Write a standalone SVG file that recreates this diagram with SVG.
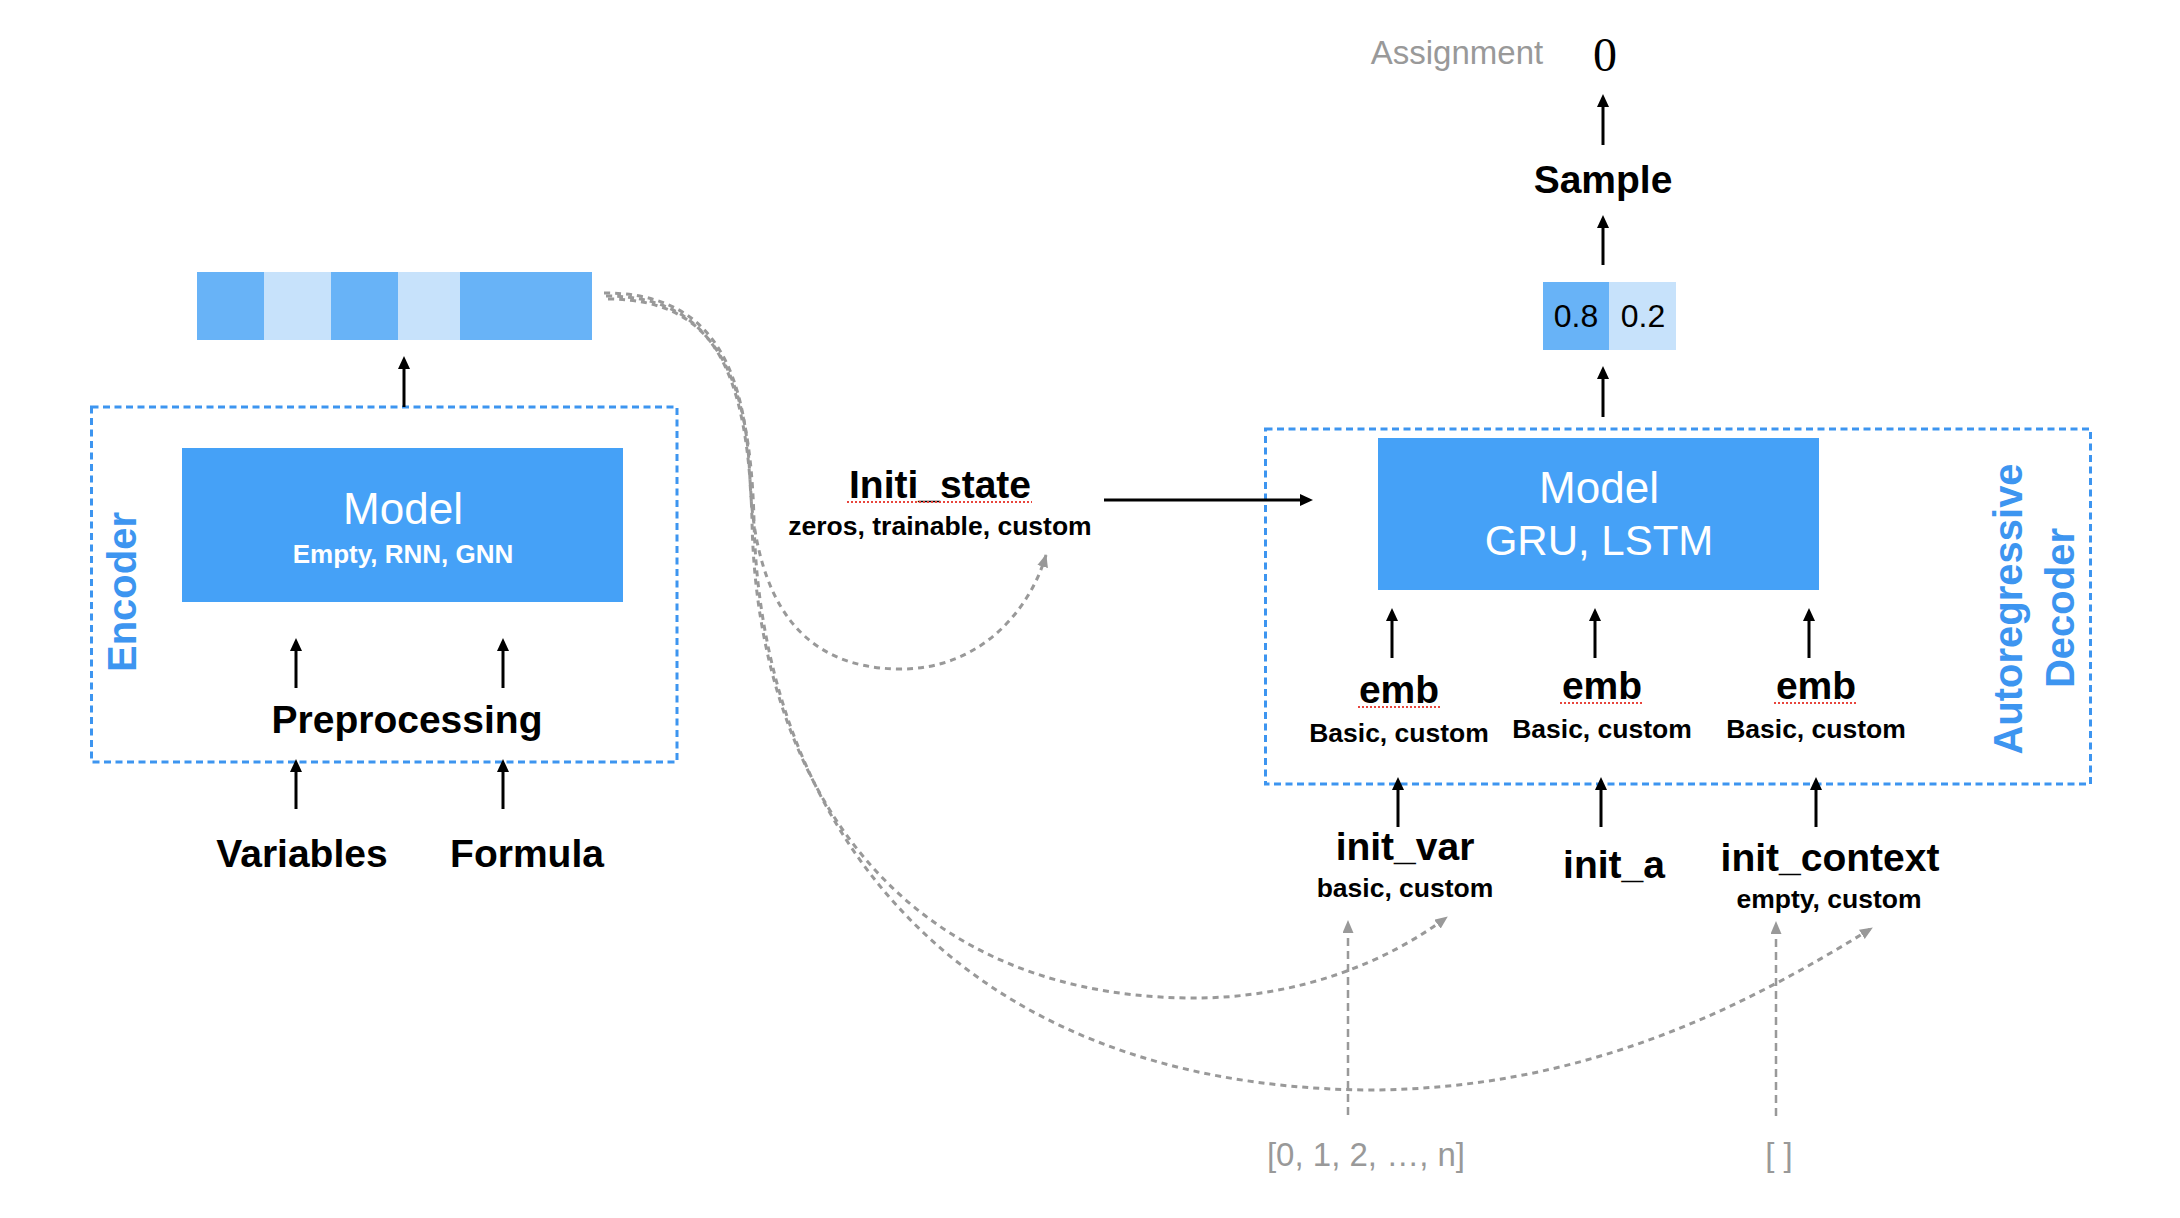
<svg xmlns="http://www.w3.org/2000/svg" width="2180" height="1218" viewBox="0 0 2180 1218">
<defs>
<style>
text { font-family: "Liberation Sans", Arial, Helvetica, sans-serif; }
.lbl { font-size: 39px; font-weight: bold; fill: #000; text-anchor: middle; }
.sub { font-size: 26.5px; font-weight: bold; fill: #000; text-anchor: middle; }
.mtxt { font-size: 44px; fill: #fff; text-anchor: middle; }
.msub { font-size: 26px; font-weight: bold; fill: #fff; text-anchor: middle; }
.grp { font-size: 40px; font-weight: bold; fill: #3d95f0; text-anchor: middle; }
.gray { font-size: 33px; fill: #999; text-anchor: middle; }
.num { font-size: 32px; fill: #000; text-anchor: middle; }
.model { fill: #45a1f7; }
.dashbox { fill: none; stroke: #3d95f0; stroke-width: 3; stroke-dasharray: 7 4.5; }
.arrow { stroke: #000; stroke-width: 3; fill: none; marker-end: url(#ah); }
.curve { stroke: #999; stroke-width: 3; fill: none; stroke-dasharray: 6 5; marker-end: url(#gh); }
.gline { stroke: #999; stroke-width: 2.5; fill: none; stroke-dasharray: 8 5; marker-end: url(#gh); }
.dark { fill: #68b3f7; }
.light { fill: #c7e2fb; }
.spell { stroke: #e8453c; stroke-width: 2; stroke-dasharray: 2 2; fill: none; }
</style>
<marker id="ah" markerUnits="userSpaceOnUse" markerWidth="14" markerHeight="12" refX="6" refY="6" orient="auto"><path d="M0,0 L13,6 L0,12 z" fill="#000" stroke="none"/></marker>
<marker id="gh" markerUnits="userSpaceOnUse" markerWidth="14" markerHeight="12" refX="12" refY="5.5" orient="auto"><path d="M0,0 L13,5.5 L0,11 z" fill="#999" stroke="none"/></marker>
</defs>
<rect width="2180" height="1218" fill="#fff"/>

<g id="encoder">
<rect class="dashbox" x="91.5" y="407" width="585.5" height="355"/>
<text class="grp" transform="translate(136,592) rotate(-90)">Encoder</text>
</g>
<g id="encoder-model">
<rect class="model" x="182" y="448" width="441" height="154"/>
<text class="mtxt" x="403" y="524">Model</text>
<text class="msub" x="403" y="563">Empty, RNN, GNN</text>
</g>
<g id="preprocessing"><text class="lbl" x="407" y="733">Preprocessing</text></g>
<g id="variables"><text class="lbl" x="302" y="867">Variables</text></g>
<g id="formula"><text class="lbl" x="527" y="867">Formula</text></g>
<g id="feature-vector">
<rect class="dark" x="197" y="272" width="67" height="68"/>
<rect class="light" x="264" y="272" width="67" height="68"/>
<rect class="dark" x="331" y="272" width="67" height="68"/>
<rect class="light" x="398" y="272" width="62" height="68"/>
<rect class="dark" x="460" y="272" width="132" height="68"/>
</g>
<g id="initi-state">
<text class="lbl" x="940" y="498">Initi_state</text>
<line class="spell" x1="847" y1="502" x2="1032" y2="502"/>
<text class="sub" x="940" y="535">zeros, trainable, custom</text>
</g>
<g id="decoder">
<rect class="dashbox" x="1265.5" y="429" width="825" height="355"/>
<text class="grp" transform="translate(2022,609) rotate(-90)">Autoregressive</text>
<text class="grp" transform="translate(2074,608) rotate(-90)">Decoder</text>
</g>
<g id="decoder-model">
<rect class="model" x="1378" y="438" width="441" height="152"/>
<text class="mtxt" x="1599" y="503">Model</text>
<text class="mtxt" x="1599" y="555" style="font-size:42px">GRU, LSTM</text>
</g>
<g id="emb1">
<text class="lbl" x="1399" y="703">emb</text>
<line class="spell" x1="1358" y1="707" x2="1440" y2="707"/>
<text class="sub" x="1399" y="742">Basic, custom</text>
</g>
<g id="emb2">
<text class="lbl" x="1602" y="699">emb</text>
<line class="spell" x1="1560" y1="703" x2="1643" y2="703"/>
<text class="sub" x="1602" y="738">Basic, custom</text>
</g>
<g id="emb3">
<text class="lbl" x="1816" y="699">emb</text>
<line class="spell" x1="1774" y1="703" x2="1857" y2="703"/>
<text class="sub" x="1816" y="738">Basic, custom</text>
</g>
<g id="init-var">
<text class="lbl" x="1405" y="860">init_var</text>
<text class="sub" x="1405" y="897">basic, custom</text>
</g>
<g id="init-a"><text class="lbl" x="1614" y="878">init_a</text></g>
<g id="init-context">
<text class="lbl" x="1830" y="871">init_context</text>
<text class="sub" x="1829" y="908">empty, custom</text>
</g>
<g id="probabilities">
<rect class="dark" x="1543" y="282" width="66" height="68"/>
<rect class="light" x="1609" y="282" width="67" height="68"/>
<text class="num" x="1576" y="327">0.8</text>
<text class="num" x="1643" y="327">0.2</text>
</g>
<g id="sample"><text class="lbl" x="1603" y="193">Sample</text></g>
<g id="assignment">
<text class="gray" x="1457" y="64">Assignment</text>
<text x="1605" y="71" style="font-family:'Liberation Serif','Times New Roman',serif;font-size:48px;fill:#000" text-anchor="middle">0</text>
</g>
<g id="var-indices"><text class="gray" x="1366" y="1166">[0, 1, 2, …, n]</text></g>
<g id="empty-list"><text class="gray" x="1779" y="1166">[ ]</text></g>

<g id="connectors">
<path class="arrow" d="M404,407 L404,363"/>
<path class="arrow" d="M296,688 L296,645"/>
<path class="arrow" d="M503,688 L503,645"/>
<path class="arrow" d="M296,809 L296,766"/>
<path class="arrow" d="M503,809 L503,766"/>
<path class="arrow" d="M1104,500 L1306,500"/>
<path class="arrow" d="M1392,658 L1392,615"/>
<path class="arrow" d="M1595,658 L1595,615"/>
<path class="arrow" d="M1809,658 L1809,615"/>
<path class="arrow" d="M1398,827 L1398,784"/>
<path class="arrow" d="M1601,827 L1601,784"/>
<path class="arrow" d="M1816,827 L1816,784"/>
<path class="arrow" d="M1603,417 L1603,373"/>
<path class="arrow" d="M1603,265 L1603,222"/>
<path class="arrow" d="M1603,145 L1603,101"/>
<path class="gline" d="M1348,1115 L1348,921"/>
<path class="gline" d="M1776,1116 L1776,922"/>
<path class="curve" d="M604,293 C700,293 745,350 750,480 C755,600 800,668 899,669 C980,670 1030,610 1046,555"/>
<path class="curve" d="M606,296 C712,296 748,370 752,520 C756,760 880,995 1190,998 C1300,999 1390,960 1447,917"/>
<path class="curve" d="M608,299 C714,299 750,372 754,520 C760,820 950,1085 1366,1090 C1580,1090 1740,1010 1872,928"/>
</g>
</svg>
